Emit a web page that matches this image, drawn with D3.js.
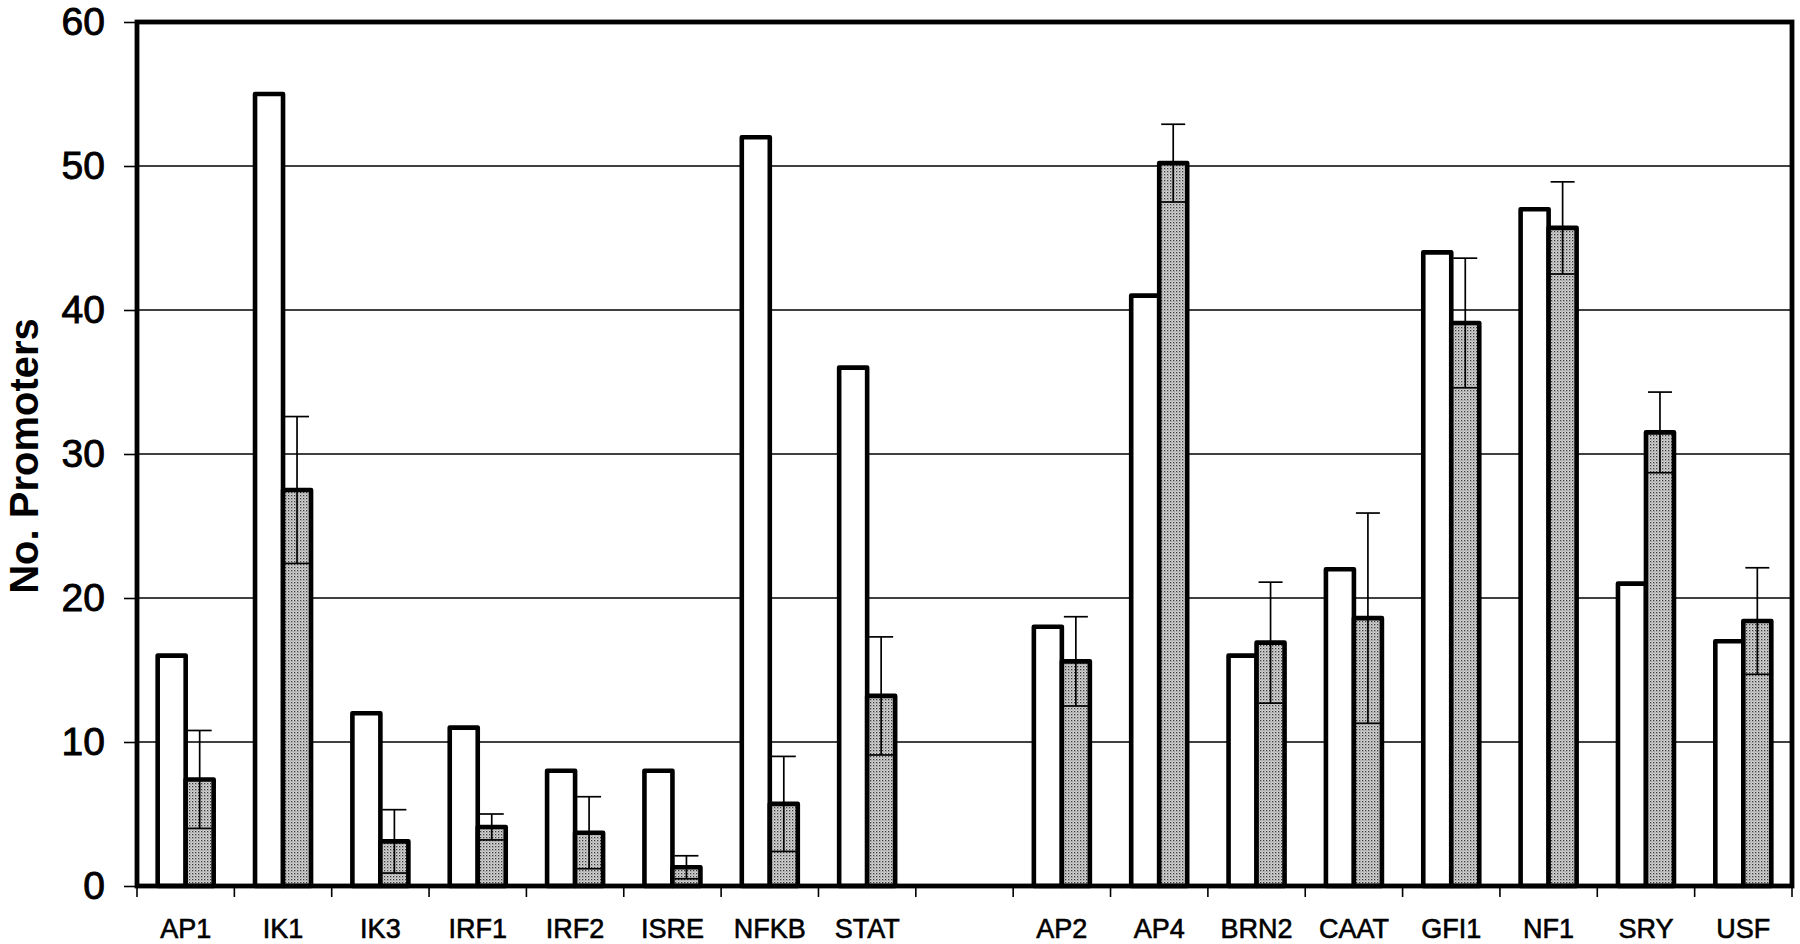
<!DOCTYPE html>
<html>
<head>
<meta charset="utf-8">
<script src="https://cdn.jsdelivr.net/npm/d3@7"></script>
<style>
  html, body { margin: 0; padding: 0; background: #fff; }
  svg { display: block; }
  text { font-family: "Liberation Sans", Arial, sans-serif; fill: #000; }
</style>
</head>
<body>
<svg id="chart" width="1800" height="944"></svg>
<script>
// ---- data ----
const groupA = ["AP1", "IK1", "IK3", "IRF1", "IRF2", "ISRE", "NFKB", "STAT"];
const groupB = ["AP2", "AP4", "BRN2", "CAAT", "GFI1", "NF1", "SRY", "USF"];
const categories = groupA.concat(groupB);
const observed = [16, 55, 12, 11, 8, 8, 52, 36, 18, 41, 16, 22, 44, 47, 21, 17];
const expectedMean = [7.4, 27.5, 3.1, 4.1, 3.7, 1.3, 5.7, 13.2, 15.6, 50.2, 16.9, 18.6, 39.1, 45.7, 31.5, 18.4];
const expectedErr = [3.4, 5.1, 2.2, 0.9, 2.5, 0.8, 3.3, 4.1, 3.1, 2.7, 4.2, 7.3, 4.5, 3.2, 2.8, 3.7];
const yTicks = [0, 10, 20, 30, 40, 50, 60];
const yTitle = "No. Promoters";

(function () {
// ---- layout ----
const svg = d3.select("#chart");
const pLeft = 137, pRight = 1792, pTop = 22, pBottom = 886;
const slots = groupA.concat(["__gap__"], groupB);

const x = d3.scaleBand().domain(slots).range([pLeft, pRight]).paddingInner(0).paddingOuter(0);
const y = d3.scaleLinear().domain([0, 60]).range([pBottom, pTop]);
const barW = 28;

// pattern for stippled bars
const defs = svg.append("defs");
const pat = defs.append("pattern").attr("id", "stipple")
  .attr("patternUnits", "userSpaceOnUse").attr("width", 3).attr("height", 3);
pat.append("rect").attr("width", 3).attr("height", 3).attr("fill", "#d4d4d4");
pat.append("rect").attr("x", 0).attr("y", 0).attr("width", 1.3).attr("height", 1.3).attr("fill", "#3a3a3a");
pat.append("rect").attr("x", 1.5).attr("y", 1.5).attr("width", 1.0).attr("height", 1.0).attr("fill", "#777");

// gridlines
svg.append("g").selectAll("line").data(yTicks.filter(t => t > 0 && t < 60)).join("line")
  .attr("x1", pLeft).attr("x2", pRight)
  .attr("y1", d => y(d)).attr("y2", d => y(d))
  .attr("stroke", "#000").attr("stroke-width", 1.6);

const data = categories.map((c, i) => ({
  cat: c, obs: observed[i], mean: expectedMean[i], err: expectedErr[i]
}));
const cx = d => x(d.cat) + x.bandwidth() / 2;

// observed (white) bars
svg.append("g").selectAll("rect").data(data).join("rect")
  .attr("x", d => cx(d) - barW)
  .attr("y", d => y(d.obs))
  .attr("width", barW)
  .attr("height", d => y(0) - y(d.obs))
  .attr("fill", "#fff").attr("stroke", "#000").attr("stroke-width", 4.6)
  .attr("stroke-linejoin", "round");

// expected (stippled) bars
svg.append("g").selectAll("rect").data(data).join("rect")
  .attr("x", d => cx(d))
  .attr("y", d => y(d.mean))
  .attr("width", barW)
  .attr("height", d => y(0) - y(d.mean))
  .attr("fill", "url(#stipple)").attr("stroke", "#000").attr("stroke-width", 4.6)
  .attr("stroke-linejoin", "round");

// error bars
const eg = svg.append("g").attr("stroke", "#000").attr("stroke-width", 1.7);
data.forEach(d => {
  const ex = cx(d) + barW / 2;
  const hi = d.mean + d.err, lo = Math.max(0, d.mean - d.err);
  eg.append("line").attr("x1", ex).attr("x2", ex).attr("y1", y(hi)).attr("y2", y(lo));
  eg.append("line").attr("x1", ex - 12).attr("x2", ex + 12).attr("y1", y(hi)).attr("y2", y(hi));
  eg.append("line").attr("x1", ex - 12).attr("x2", ex + 12).attr("y1", y(lo)).attr("y2", y(lo));
});

// frame
svg.append("rect").attr("x", pLeft).attr("y", pTop)
  .attr("width", pRight - pLeft).attr("height", pBottom - pTop)
  .attr("fill", "none").attr("stroke", "#000").attr("stroke-width", 4.8);

// y axis
const yAxis = svg.append("g").attr("transform", `translate(${pLeft},0)`)
  .call(d3.axisLeft(y).tickValues(yTicks).tickSize(13).tickPadding(19).tickFormat(d3.format("d")));
yAxis.select(".domain").remove();
yAxis.selectAll(".tick line").attr("stroke", "#000").attr("stroke-width", 1.6);
yAxis.selectAll(".tick text").style("font-size", "39px")
  .style("font-family", '"Liberation Sans", Arial, sans-serif')
  .attr("fill", "#000").attr("stroke", "#000").attr("stroke-width", 0.9);

// x axis labels
const xAxis = svg.append("g").attr("transform", `translate(0,${pBottom})`)
  .call(d3.axisBottom(x).tickSize(0).tickPadding(33).tickFormat(d => d === "__gap__" ? "" : d));
xAxis.select(".domain").remove();
xAxis.selectAll(".tick text").style("font-size", "27px")
  .style("font-family", '"Liberation Sans", Arial, sans-serif')
  .attr("fill", "#000").attr("stroke", "#000").attr("stroke-width", 0.6);

// x tick marks at band boundaries
const bounds = slots.map(s => x(s)).concat([x(slots[slots.length - 1]) + x.bandwidth()]);
svg.append("g").selectAll("line").data(bounds).join("line")
  .attr("x1", d => d).attr("x2", d => d)
  .attr("y1", pBottom).attr("y2", pBottom + 11)
  .attr("stroke", "#000").attr("stroke-width", 1.6);

// y title
svg.append("text")
  .attr("transform", `translate(38,${(pTop + pBottom) / 2 + 2}) rotate(-90)`)
  .attr("text-anchor", "middle")
  .style("font-size", "40px").style("font-weight", "bold")
  .text(yTitle);
})();
</script>
</body>
</html>
